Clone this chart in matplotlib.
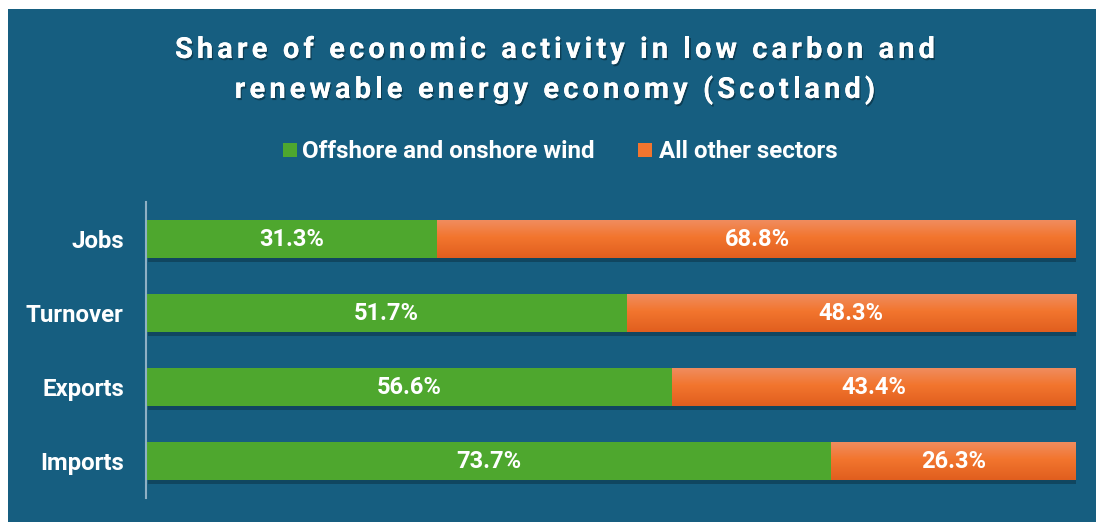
import numpy as np
import matplotlib
matplotlib.use("Agg")
import matplotlib.pyplot as plt
import matplotlib.patheffects as pe
from matplotlib.patches import Rectangle
from matplotlib.font_manager import FontProperties

categories = ["Jobs", "Turnover", "Exports", "Imports"]
wind = [31.3, 51.7, 56.6, 73.7]
other = [68.8, 48.3, 43.4, 26.3]
series_names = ["Offshore and onshore wind", "All other sectors"]
title_lines = ["Share of economic activity in low carbon and",
               "renewable energy economy (Scotland)"]

BG = "#165e80"
GREEN = "#4ea72e"
ORANGE_TOP = np.array([0.94, 0.55, 0.37])
ORANGE_MID = np.array([0.95, 0.46, 0.18])
ORANGE_BOT = np.array([0.88, 0.37, 0.12])
FONT = "Roboto"

W, H = 1096, 522
fig = plt.figure(figsize=(W / 100, H / 100), dpi=100, facecolor="white")
fig.patches.append(Rectangle((8 / W, 0), 1, 1 - 9 / H, transform=fig.transFigure,
                             facecolor=BG, edgecolor="none", zorder=-10))

ax = fig.add_axes([146 / W, 1 - 498 / H, 930 / W, 296 / H])
ax.set_facecolor("none")

ypos = np.arange(len(categories))
h = 0.51
shadow = [pe.withSimplePatchShadow(offset=(1.5, -3), shadow_rgbFace="#0a2a3a", alpha=0.45)]

ax.barh(ypos, wind, height=h, color=GREEN, path_effects=shadow, zorder=2)
ax.barh(ypos, other, left=wind, height=h, color=ORANGE_MID,
        path_effects=shadow, zorder=3)

# vertical gradient on the orange segments
t = np.linspace(0, 1, 64)[:, None]
grad = np.where(t < 0.45,
                ORANGE_TOP + (ORANGE_MID - ORANGE_TOP) * (t / 0.45),
                ORANGE_MID + (ORANGE_BOT - ORANGE_MID) * ((t - 0.45) / 0.55))
grad = grad[:, None, :].repeat(2, axis=1)
for y, l, w in zip(ypos, wind, other):
    ax.imshow(grad, extent=(l, l + w, y + h / 2, y - h / 2), origin="upper",
              aspect="auto", zorder=4, interpolation="bilinear")
ax.set_xlim(0, 100)
ax.set_ylim(3.5, -0.5)

for y, a, b in zip(ypos, wind, other):
    ax.text(a / 2, y, f"{a:.1f}%", ha="center", va="center", color="white",
            fontsize=17, fontweight="bold", family=FONT, zorder=6)
    ax.text(a + b / 2, y, f"{b:.1f}%", ha="center", va="center", color="white",
            fontsize=17, fontweight="bold", family=FONT, zorder=6)

ax.set_yticks(ypos)
ax.set_yticklabels(categories, fontsize=17.3, fontweight="bold", family=FONT, color="white")
ax.tick_params(axis="y", length=0, pad=16)
ax.set_xticks([])
for s in ["top", "right", "bottom"]:
    ax.spines[s].set_visible(False)
ax.spines["left"].set_color("#8fb0c4")
ax.spines["left"].set_linewidth(1.5)

# title with letter spacing
renderer = fig.canvas.get_renderer()
tprop = FontProperties(family=FONT, weight="bold", size=21)


def text_w(s):
    return renderer.get_text_width_height_descent(s, tprop, ismath=False)[0]


def spaced(s, cx, cy, track):
    ref = text_w("I")
    total = text_w(s) + track * (len(s) - 1)
    x0 = cx - total / 2
    for i, ch in enumerate(s):
        if ch == " ":
            continue
        x = x0 + (text_w(s[:i] + "I") - ref if i else 0) + track * i
        fig.text(x / W, 1 - cy / H, ch, fontproperties=tprop, color="white",
                 ha="left", va="center",
                 path_effects=[pe.withSimplePatchShadow(offset=(1, -1.5),
                                                        shadow_rgbFace="#06202c", alpha=0.5),
                               pe.Normal()])


track = (760 - text_w(title_lines[0])) / (len(title_lines[0]) - 1)
spaced(title_lines[0], 555, 50, track)
spaced(title_lines[1], 555, 90, track)

# legend
lprop = dict(fontsize=17.4, fontweight="bold", family=FONT, color="white", va="center")
fig.patches.append(Rectangle((283 / W, 1 - 157 / H), 14 / W, 14 / H,
                             transform=fig.transFigure, facecolor=GREEN, edgecolor="none"))
fig.text(302 / W, 1 - 151.5 / H, series_names[0], **lprop)
fig.patches.append(Rectangle((638 / W, 1 - 157 / H), 14 / W, 14 / H,
                             transform=fig.transFigure, facecolor=ORANGE_MID, edgecolor="none"))
fig.text(659 / W, 1 - 151.5 / H, series_names[1], **lprop)

fig.savefig("out.png", dpi=100, facecolor="white")
